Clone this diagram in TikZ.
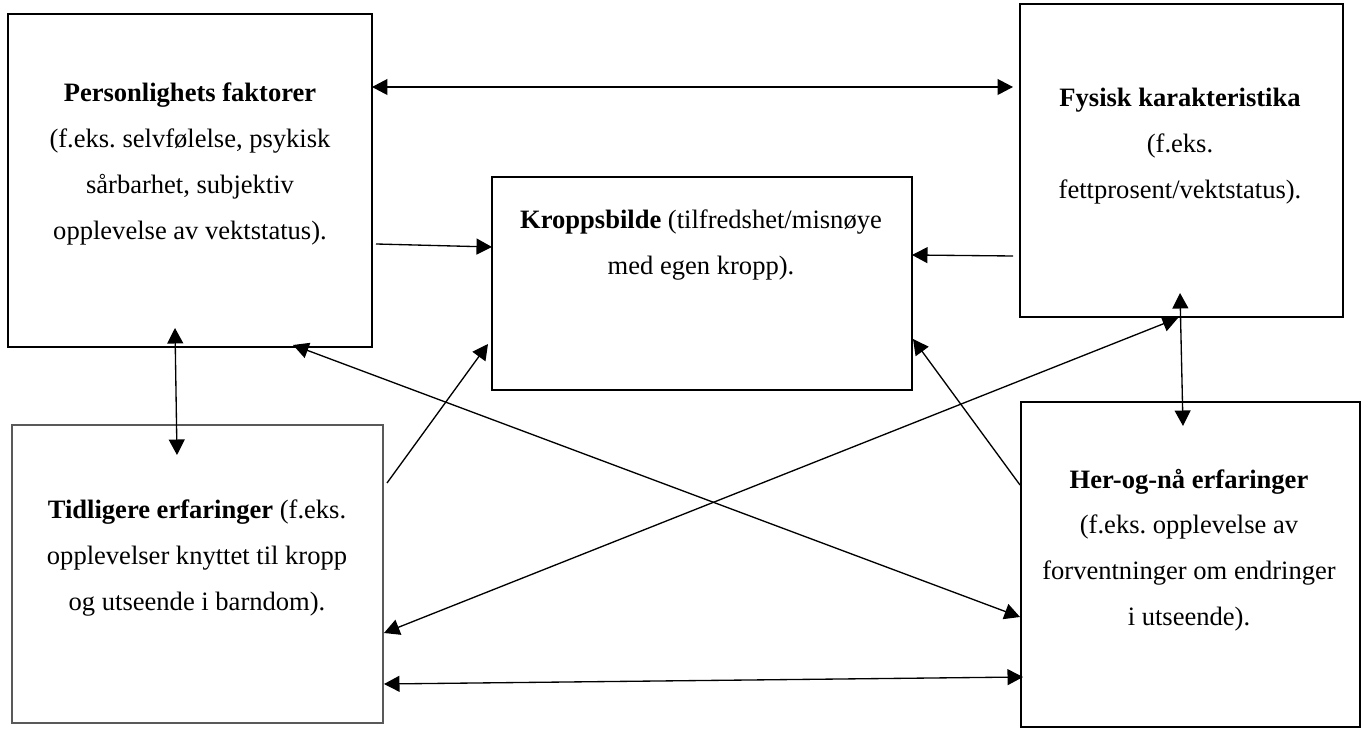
\documentclass[tikz,border=0pt]{standalone}
\usepackage{fontspec}
\setmainfont{Liberation Serif}
\usetikzlibrary{arrows.meta,calc}
\frenchspacing
\definecolor{boxgray}{HTML}{595959}
\tikzset{
  box/.style={draw=black, line width=1.25pt, inner sep=0pt, outer sep=0pt, fill=none},
  graybox/.style={box, draw=boxgray},
  txt/.style={align=center, inner sep=0pt, font=\fontsize{12pt}{20.7pt}\selectfont},
  conn/.style={line width=0.6pt, draw=black},
  tip/.tip={Triangle[length=7pt,width=7.2pt]},
}
\begin{document}
\begin{tikzpicture}[x=0.452pt, y=-0.452pt]
\useasboundingbox (0,0) rectangle (1369,729);
% boxes
\node[box, minimum width=364*0.452pt, minimum height=333*0.452pt] (A) at (190,180.5) {};
\node[box, minimum width=420*0.452pt, minimum height=213*0.452pt] (K) at (702,283.5) {};
\node[box, minimum width=323*0.452pt, minimum height=313*0.452pt] (F) at (1181.5,160.5) {};
\node[graybox, minimum width=371*0.452pt, minimum height=298*0.452pt] (T) at (197.5,574) {};
\node[box, minimum width=339*0.452pt, minimum height=325*0.452pt] (H) at (1190.5,564.5) {};
% texts
\node[txt] (At) at (190,164) {\textbf{Personlighets faktorer}\\(f.eks. selvfølelse, psykisk\\sårbarhet, subjektiv\\opplevelse av vektstatus).};
\node[txt] (Kt) at (701,245) {\textbf{Kroppsbilde} (tilfredshet/misnøye\\med egen kropp).};
\node[txt] (Ft) at (1180,146) {\textbf{Fysisk karakteristika}\\(f.eks.\\fettprosent/vektstatus).};
\node[txt] (Tt) at (197,558) {\textbf{Tidligere erfaringer} (f.eks.\\opplevelser knyttet til kropp\\og utseende i barndom).};
\node[txt] (Ht) at (1189,550) {\textbf{Her-og-nå erfaringer}\\(f.eks. opplevelse av\\forventninger om endringer\\i utseende).};
% connectors
\draw[conn, {tip}-{tip}] ($(A.north east)+(0,73)$) -- ($(F.north west)+(-7,83)$);
\draw[conn, -{tip}] ($(A.north east)+(4,230)$) -- ($(K.north west)+(0,70)$);
\draw[conn, -{tip}] ($(F.north west)+(-7,252)$) -- ($(K.north east)+(0,78)$);
\draw[conn, {tip}-{tip}] ($(A.south west)+(167,-19)$) -- ($(T.north west)+(165,30)$);
\draw[conn, -{tip}] ($(T.north east)+(4,58)$) -- ($(K.south west)+(-4,-46)$);
\draw[conn, {tip}-{tip}] ($(A.south west)+(285,-2)$) -- ($(H.north west)+(-1,215)$);
\draw[conn, {tip}-{tip}] ($(T.north east)+(1,208)$) -- ($(F.south west)+(158,1)$);
\draw[conn, {tip}-{tip}] ($(F.south west)+(160,-24)$) -- ($(H.north west)+(162,24)$);
\draw[conn, -{tip}] ($(H.north west)+(-1,83)$) -- ($(K.north east)+(1,162)$);
\draw[conn, {tip}-{tip}] ($(T.north east)+(1,259)$) -- ($(H.north west)+(2,275)$);
\end{tikzpicture}
\end{document}
